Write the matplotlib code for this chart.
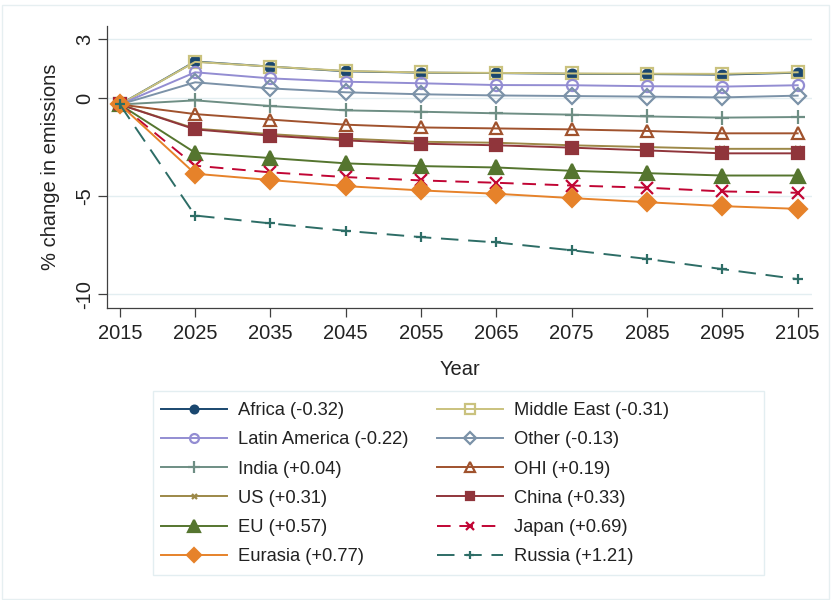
import matplotlib.pyplot as plt
from matplotlib.patches import Rectangle

plt.rcParams['font.family'] = ['Liberation Sans', 'DejaVu Sans']

years = [2015, 2025, 2035, 2045, 2055, 2065, 2075, 2085, 2095, 2105]

africa = [-0.33, 1.86, 1.60, 1.36, 1.29, 1.27, 1.23, 1.22, 1.19, 1.29]
middle_east = [-0.33, 1.84, 1.60, 1.38, 1.30, 1.28, 1.25, 1.24, 1.23, 1.31]
latin_america = [-0.33, 1.31, 1.00, 0.83, 0.75, 0.66, 0.65, 0.60, 0.58, 0.65]
other = [-0.33, 0.80, 0.49, 0.29, 0.19, 0.13, 0.10, 0.07, 0.03, 0.12]
india = [-0.33, -0.12, -0.41, -0.63, -0.70, -0.78, -0.85, -0.94, -1.00, -0.97]
ohi = [-0.33, -0.82, -1.10, -1.36, -1.50, -1.55, -1.60, -1.68, -1.80, -1.80]
us = [-0.33, -1.56, -1.84, -2.07, -2.23, -2.28, -2.41, -2.50, -2.59, -2.59]
china = [-0.33, -1.60, -1.92, -2.16, -2.33, -2.41, -2.53, -2.67, -2.82, -2.82]
eu = [-0.33, -2.79, -3.06, -3.33, -3.47, -3.54, -3.71, -3.83, -3.95, -3.95]
japan = [-0.33, -3.45, -3.79, -4.03, -4.20, -4.32, -4.46, -4.57, -4.76, -4.83]
eurasia = [-0.33, -3.86, -4.18, -4.49, -4.71, -4.88, -5.10, -5.31, -5.51, -5.65]
russia = [-0.33, -5.99, -6.39, -6.77, -7.09, -7.36, -7.76, -8.20, -8.72, -9.23]

labels = ['Africa (-0.32)', 'Middle East (-0.31)', 'Latin America (-0.22)', 'Other (-0.13)',
          'India (+0.04)', 'OHI (+0.19)', 'US (+0.31)', 'China (+0.33)',
          'EU (+0.57)', 'Japan (+0.69)', 'Eurasia (+0.77)', 'Russia (+1.21)']
series = [africa, middle_east, latin_america, other, india, ohi,
          us, china, eu, japan, eurasia, russia]

# colour, marker, marker size, filled, line style
styles = [
    ('#1a476f', 'o', 7, True, '-'),
    ('#cac27e', 's', 8.5, False, '-'),
    ('#938dd2', 'o', 8, False, '-'),
    ('#7b92a8', 'D', 8, False, '-'),
    ('#6e8e84', '+', 10, True, '-'),
    ('#a0522d', '^', 8.5, False, '-'),
    ('#9c8847', 'x', 4.5, True, '-'),
    ('#90353b', 's', 8, True, '-'),
    ('#55752f', '^', 10, True, '-'),
    ('#c10534', 'x', 8, True, (0, (7, 4.5))),
    ('#e6822a', 'D', 9.5, True, '-'),
    ('#2d6d66', '+', 7, True, (0, (9, 5))),
]

fig = plt.figure(figsize=(8.31, 6.0), dpi=100)
ax = fig.add_axes([0.1288, 0.4867, 0.8483, 0.47])

# faint outer border of the graph region
fig.patches.append(Rectangle((0.002, 0.002), 0.996, 0.99, transform=fig.transFigure,
                             fill=False, edgecolor='#e6eff1', lw=1.0))

handles = []
for vals, lab, (col, mk, ms, filled, ls) in zip(series, labels, styles):
    h, = ax.plot(years, vals, color=col, lw=1.4, ls=ls, marker=mk, markersize=ms,
                 markerfacecolor=col if filled else 'none', markeredgecolor=col,
                 markeredgewidth=1.6, label=lab, zorder=3)
    handles.append(h)

ax.set_xlim(2013.3, 2106.9)
ax.set_ylim(-10.7, 3.67)
ax.set_xticks(years)
ax.set_yticks([3, 0, -5, -10])
ax.set_yticklabels(['3', '0', '-5', '-10'], rotation=90, va='center')
for y in [3, 0, -5, -10]:
    ax.axhline(y, color='#e3eef1', lw=1.0, zorder=1)

for side in ['top', 'right']:
    ax.spines[side].set_visible(False)
for side in ['left', 'bottom']:
    ax.spines[side].set_color('#404040')
    ax.spines[side].set_linewidth(0.9)
ax.tick_params(axis='both', length=6.5, width=0.9, color='#404040',
               labelsize=14.5, labelcolor='#222222')
ax.tick_params(axis='y', pad=3)
ax.tick_params(axis='x', pad=5)

ax.set_xlabel('Year', fontsize=14.5, color='#222222', labelpad=12)
ax.set_ylabel('% change in emissions', fontsize=14.5, color='#222222', labelpad=11)

# legend entries go row by row: left column takes the even entries
order = list(range(0, 12, 2)) + list(range(1, 12, 2))
leg = fig.legend(handles=[handles[i] for i in order], ncol=2, loc='upper left',
                 bbox_to_anchor=(161 / 831, 1 - 402 / 600), bbox_transform=fig.transFigure,
                 fontsize=13.2, frameon=False, borderpad=0, borderaxespad=0,
                 handlelength=3.6, handletextpad=0.6, columnspacing=1.58,
                 labelspacing=0.67, markerscale=0.8)
for t in leg.get_texts():
    t.set_color('#222222')

# legend box
fig.patches.append(Rectangle((153 / 831, 1 - 575 / 600), 611 / 831, 184 / 600,
                             transform=fig.transFigure, fill=False,
                             edgecolor='#e3eef1', lw=1.0))

fig.savefig('out.png', dpi=100)
